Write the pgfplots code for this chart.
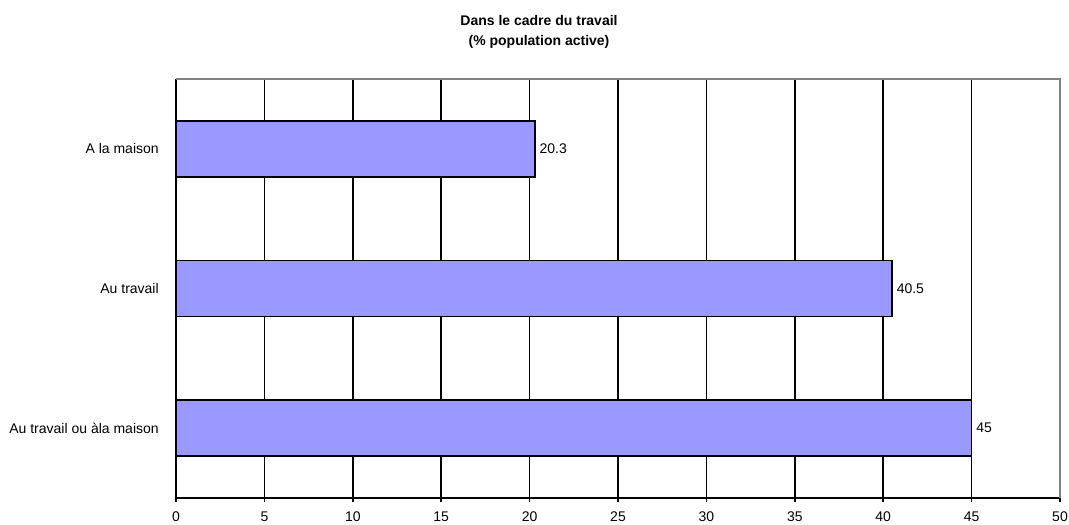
\documentclass[border=0pt]{standalone}
\usepackage{pgfplots}
\pgfplotsset{compat=1.18}
\usepackage{fontspec}
\setmainfont{Liberation Sans}
\definecolor{barblue}{HTML}{9999FF}
\definecolor{frameg}{HTML}{808080}
\begin{document}
\begin{tikzpicture}
\begin{axis}[
  scale only axis,
  width=663pt, height=314.25pt,
  xbar, bar width=42pt,
  xmin=0, xmax=50,
  ymin=-0.5, ymax=2.5,
  axis x line*=bottom, axis y line*=left,
  axis line style={black, line width=1.5pt, -},
  xtick={0,5,...,50},
  xmajorgrids, grid style={black, line width=1.1pt},
  tick style={black, line width=1.1pt},
  tick align=outside,
  major tick length=3pt,
  ytick={0,1,2},
  yticklabels={Au travail ou àla maison, Au travail, A la maison},
  y tick style={draw=none},
  extra y ticks={-0.5,0.5,1.5,2.5},
  extra y tick labels={},
  extra y tick style={tick style={black, line width=1.1pt}, major tick length=3pt, grid=none},
  ticklabel style={font=\fontsize{10.5}{12.6}\selectfont},
  xticklabel style={inner sep=0pt, yshift=-7pt},
  yticklabel style={inner sep=0pt, xshift=-9.75pt},
  /pgf/number format/assume math mode=true,
  nodes near coords,
  nodes near coords style={font=\fontsize{10.5}{12.6}\selectfont, anchor=west, inner sep=0pt, xshift=3pt, /pgf/number format/.cd, fixed, precision=1},
  clip=false,
]
\addplot[fill=barblue, draw=black, line width=1.1pt] coordinates {(45,0) (40.5,1) (20.3,2)};
\draw[frameg, line width=2pt] (rel axis cs:0,1) -- (rel axis cs:1,1) -- (rel axis cs:1,0);
\end{axis}
\node[align=center, font=\bfseries\fontsize{10.5}{15}\selectfont] at (272.25pt,349.5pt) {Dans le cadre du travail\\(\% population active)};
\pgfresetboundingbox
\path[use as bounding box] (-132pt,-19.5pt) rectangle (669.75pt,373.5pt);
\end{tikzpicture}
\end{document}
